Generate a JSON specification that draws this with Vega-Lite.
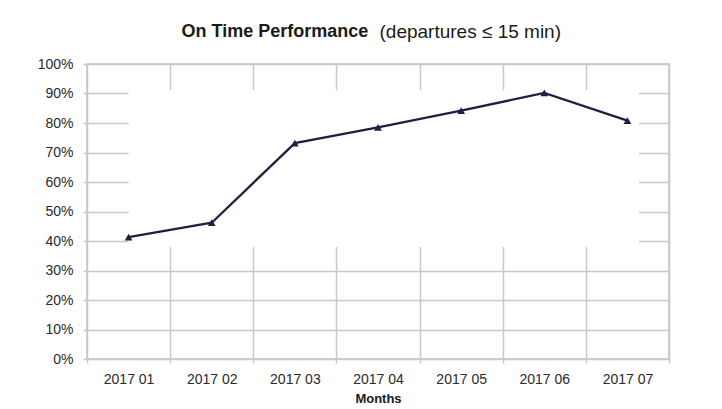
{
  "$schema": "https://vega.github.io/schema/vega-lite/v6.json",
  "width": 582,
  "height": 295,
  "autosize": {"type": "none"},
  "padding": {"left": 87, "top": 64, "right": 53, "bottom": 50},
  "background": "white",
  "config": {
    "font": "Liberation Sans",
    "view": {"stroke": "#c4c4c4", "strokeWidth": 1.5},
    "axis": {
      "labelFont": "Liberation Sans",
      "labelColor": "#2a2a2a",
      "labelFontSize": 14,
      "titleFont": "Liberation Sans",
      "titleColor": "#1a1a1a",
      "gridColor": "#c8c8c8",
      "gridWidth": 1.5,
      "tickColor": "#c8c8c8",
      "tickWidth": 1.5,
      "domain": false
    }
  },
  "datasets": {
    "perf": [
      {"month": "2017 01", "pct": 0.413},
      {"month": "2017 02", "pct": 0.462},
      {"month": "2017 03", "pct": 0.732},
      {"month": "2017 04", "pct": 0.785},
      {"month": "2017 05", "pct": 0.842},
      {"month": "2017 06", "pct": 0.902},
      {"month": "2017 07", "pct": 0.808}
    ],
    "mask": [
      {"from": "2017 01", "to": "2017 07", "low": 0.38, "high": 0.912}
    ]
  },
  "layer": [
    {
      "data": {"name": "mask"},
      "mark": {"type": "rect", "color": "white", "opacity": 1},
      "encoding": {
        "x": {"field": "from", "type": "ordinal", "bandPosition": 0.5, "axis": null},
        "x2": {"field": "to", "bandPosition": 0.64},
        "y": {"field": "low", "type": "quantitative", "axis": null},
        "y2": {"field": "high"}
      }
    },
    {
      "data": {"name": "perf"},
      "mark": {"type": "line", "color": "#1d2140", "strokeWidth": 2.3},
      "encoding": {
        "x": {
          "field": "month",
          "type": "ordinal",
          "axis": {
            "orient": "bottom",
            "labelAngle": 0,
            "tickBand": "extent",
            "grid": true,
            "ticks": true,
            "tickSize": 4,
            "labelPadding": 9,
            "title": "Months",
            "titleFontSize": 13,
            "titleFontWeight": "bold",
            "titlePadding": 6
          }
        },
        "y": {
          "field": "pct",
          "type": "quantitative",
          "scale": {"domain": [0, 1]},
          "axis": {
            "orient": "left",
            "values": [0, 0.1, 0.2, 0.3, 0.4, 0.5, 0.6, 0.7, 0.8, 0.9, 1],
            "format": ".0%",
            "grid": true,
            "tickSize": 4,
            "labelPadding": 10,
            "title": "On Time Performance",
            "titleFontSize": 18,
            "titleFontWeight": "bold",
            "titleAngle": 0,
            "titleX": 94,
            "titleY": -33,
            "titleAlign": "left",
            "titleBaseline": "middle"
          }
        }
      }
    },
    {
      "data": {"name": "perf"},
      "mark": {"type": "point", "shape": "triangle-up", "filled": true, "size": 60, "color": "#1d2140", "opacity": 1},
      "encoding": {
        "x": {
          "field": "month",
          "type": "ordinal",
          "axis": {
            "orient": "top",
            "labels": false,
            "ticks": false,
            "grid": false,
            "domain": false,
            "title": "(departures ≤ 15 min)",
            "titleFontSize": 19,
            "titleFontWeight": "normal",
            "titleX": 292,
            "titleY": -33,
            "titleAlign": "left",
            "titleBaseline": "middle"
          }
        },
        "y": {"field": "pct", "type": "quantitative", "axis": null}
      }
    }
  ],
  "resolve": {"axis": {"x": "independent", "y": "independent"}}
}
